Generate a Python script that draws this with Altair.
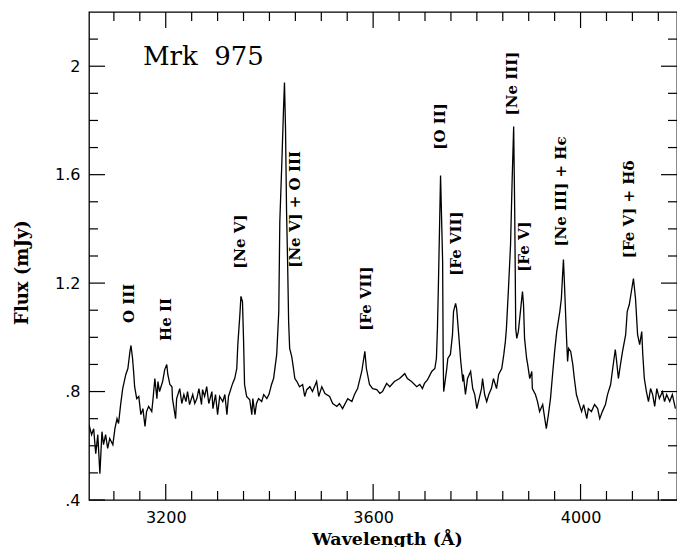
import altair as alt
import pandas as pd

# ---- spectrum ----
wavelength = [
    3052, 3057, 3061, 3065, 3069, 3073, 3077, 3080, 3084, 3088,
    3092, 3098, 3102, 3106, 3109, 3113, 3117, 3123, 3127, 3131,
    3133, 3136, 3138, 3140, 3144, 3148, 3152, 3156, 3160, 3163,
    3167, 3173, 3175, 3179, 3183, 3185, 3188, 3194, 3198, 3202,
    3204, 3208, 3212, 3213, 3219, 3221, 3227, 3231, 3235, 3239,
    3242, 3246, 3252, 3256, 3260, 3264, 3269, 3271, 3275, 3279,
    3283, 3289, 3291, 3296, 3300, 3304, 3310, 3314, 3318, 3321,
    3327, 3329, 3333, 3337, 3339, 3343, 3345, 3348, 3350, 3352,
    3356, 3362, 3366, 3368, 3372, 3375, 3379, 3385, 3389, 3395,
    3399, 3404, 3408, 3414, 3418,
    3420, 3424, 3427, 3429, 3431, 3433,
    3435, 3437, 3439, 3443, 3445, 3449, 3453, 3458, 3464, 3468,
    3472, 3478, 3483, 3491, 3495, 3501, 3507, 3516, 3522, 3530,
    3535, 3541, 3551, 3559, 3564, 3570, 3578, 3584, 3587, 3593,
    3599, 3607, 3613, 3618, 3626, 3632, 3641, 3651, 3661, 3666,
    3674, 3684, 3690, 3695, 3699, 3705, 3713, 3719, 3722, 3724,
    3726, 3730, 3734, 3735, 3736, 3738, 3742, 3744, 3749, 3753,
    3755, 3759, 3761, 3765, 3769, 3773, 3774, 3778, 3782, 3788,
    3792, 3796, 3800, 3803, 3809, 3811, 3815, 3819, 3823, 3828,
    3832, 3838, 3842, 3848, 3852, 3855, 3857, 3861, 3865, 3868,
    3871, 3873, 3875, 3877, 3880, 3884, 3888, 3890, 3892, 3896,
    3898, 3902, 3906, 3907, 3913, 3917, 3921, 3927, 3931, 3934,
    3938, 3942, 3946, 3950, 3954, 3960, 3963, 3965, 3967, 3969,
    3973, 3975, 3977, 3981, 3985, 3988, 3992, 3996, 4002, 4006,
    4012, 4015, 4021, 4027, 4033, 4037, 4042, 4048, 4052, 4058,
    4062, 4067, 4069, 4073, 4077, 4081, 4087, 4090, 4094, 4098,
    4102, 4106, 4110, 4114, 4118, 4120, 4123, 4127, 4131, 4135,
    4139, 4143, 4147, 4152, 4158, 4162, 4166, 4172, 4177, 4183,
]
flux = [
    0.678, 0.641, 0.663, 0.571, 0.641, 0.497, 0.652, 0.604, 0.641, 0.590,
    0.627, 0.604, 0.663, 0.700, 0.682, 0.752, 0.811, 0.863, 0.885, 0.948,
    0.970, 0.922, 0.874, 0.818, 0.774, 0.782, 0.715, 0.737, 0.671, 0.726,
    0.745, 0.726, 0.763, 0.848, 0.774, 0.837, 0.800, 0.837, 0.881, 0.900,
    0.863, 0.826, 0.818, 0.774, 0.700, 0.774, 0.811, 0.756, 0.789, 0.763,
    0.800, 0.752, 0.789, 0.756, 0.774, 0.811, 0.752, 0.807, 0.782, 0.818,
    0.756, 0.800, 0.737, 0.789, 0.715, 0.782, 0.763, 0.789, 0.715, 0.782,
    0.818, 0.830, 0.848, 0.885, 0.973, 1.084, 1.151, 1.132, 0.996, 0.826,
    0.782, 0.770, 0.715, 0.774, 0.715, 0.756, 0.774, 0.763, 0.789, 0.774,
    0.789, 0.826, 0.848, 0.937, 1.095,
    1.427, 1.649, 1.833, 1.940, 1.770, 1.464,
    1.280, 1.058, 0.959, 0.929, 0.903, 0.848, 0.837, 0.818, 0.826, 0.782,
    0.807, 0.818, 0.800, 0.837, 0.782, 0.818, 0.793, 0.782, 0.756, 0.745,
    0.756, 0.737, 0.774, 0.763, 0.789, 0.811, 0.874, 0.948, 0.885, 0.826,
    0.811, 0.807, 0.793, 0.800, 0.830, 0.818, 0.837, 0.848, 0.866, 0.848,
    0.837, 0.818, 0.826, 0.811, 0.830, 0.844, 0.874, 0.885, 0.922, 1.032,
    1.206, 1.597, 1.280, 0.937, 0.800, 0.826, 0.885, 0.922, 0.937, 1.010,
    1.095, 1.125, 1.106, 1.010, 0.911, 0.837, 0.863, 0.789, 0.848, 0.874,
    0.811, 0.789, 0.737, 0.763, 0.811, 0.848, 0.789, 0.763, 0.789, 0.811,
    0.848, 0.811, 0.863, 0.885, 0.937, 0.985, 1.032, 1.180, 1.342, 1.575,
    1.778, 1.464, 1.032, 0.996, 1.021, 1.095, 1.169, 1.121, 0.996, 0.922,
    0.900, 0.848, 0.874, 0.811, 0.789, 0.763, 0.726, 0.752, 0.700, 0.663,
    0.715, 0.774, 0.863, 0.948, 1.021, 1.095, 1.143, 1.217, 1.287, 1.195,
    0.996, 0.911, 0.959, 0.948, 0.900, 0.848, 0.789, 0.763, 0.726, 0.752,
    0.700, 0.737, 0.726, 0.752, 0.737, 0.700, 0.726, 0.752, 0.789, 0.826,
    0.885, 0.955, 0.922, 0.848, 0.900, 0.948, 1.010, 1.095, 1.121, 1.169,
    1.217, 1.143, 1.010, 0.973, 1.021, 0.937, 0.848, 0.800, 0.763, 0.811,
    0.789, 0.745, 0.811, 0.774, 0.800, 0.763, 0.789, 0.763, 0.789, 0.737,
]

# ---- line identifications ----
line_names = ["O III", "He II", "[Ne V]", "[Ne V] + O III", "[Fe VII]", "[O II]",
              "[Fe VII]", "[Ne III]", "[Fe V]", "[Ne III] + H\u03f5", "[Fe V] + H\u03b4"]
line_x = [3129, 3200, 3343, 3449, 3587, 3728, 3759, 3867, 3890, 3963, 4094]
line_y = [1.125, 1.066, 1.353, 1.472, 1.143, 1.778, 1.346, 1.936, 1.335, 1.538, 1.472]

object_name = ["Mrk\u00a0\u00a0975"]
object_x = [3156]
object_y = [2.003]

# ---- axis ticks ----
x_major = [3200, 3600, 4000]
x_minor = [3100, 3150, 3250, 3300, 3350, 3400, 3450, 3500, 3550, 3650, 3700,
           3750, 3800, 3850, 3900, 3950, 4050, 4100, 4150]
y_major = [0.4, 0.8, 1.2, 1.6, 2.0]
y_minor = [0.5, 0.6, 0.7, 0.9, 1.0, 1.1, 1.3, 1.4, 1.5, 1.7, 1.8, 1.9, 2.1]

W, H = 588, 488
x_dom = [3052, 4186]
y_dom = [0.4, 2.2]
xs = alt.Scale(domain=x_dom, nice=False, zero=False)
ys = alt.Scale(domain=y_dom, nice=False, zero=False)
MAJ, MIN = 16, 9

ax_x = alt.Axis(
    values=x_major, format="d", ticks=False, domain=False, grid=False,
    labelFont="DejaVu Sans", labelFontSize=16, labelColor="black",
    labelPadding=9, labelBaseline="top",
    title="Wavelength (\u00c5)", titleFont="DejaVu Serif", titleFontSize=17.5,
    titleFontWeight="bold", titleColor="black", titleX=298, titleY=44,
    titleBaseline="alphabetic", titleAlign="center")
ax_y = alt.Axis(
    values=y_major, ticks=False, domain=False, grid=False,
    labelExpr="datum.value < 1 ? '.' + format(datum.value * 10, 'd') : format(datum.value, '~g')",
    labelFont="DejaVu Sans", labelFontSize=16, labelColor="black", labelPadding=9,
    title="Flux (mJy)", titleFont="DejaVu Serif", titleFontSize=18,
    titleFontWeight="bold", titleColor="black", titleX=-67, titleY=260,
    titleAngle=270, titleAlign="center", titleBaseline="middle")

X = lambda: alt.X("lam:Q", scale=xs, axis=ax_x)
Y = lambda: alt.Y("flux:Q", scale=ys, axis=ax_y)

spec = pd.DataFrame({"lam": wavelength, "flux": flux})
labels = pd.DataFrame({"name": line_names, "lam": line_x, "flux": line_y})
obj = pd.DataFrame({"name": object_name, "lam": object_x, "flux": object_y})

xmaj = pd.DataFrame({"lam": x_major})
xmin = pd.DataFrame({"lam": x_minor})
ymaj = pd.DataFrame({"flux": y_major})
ymin = pd.DataFrame({"flux": y_minor})

line = alt.Chart(spec).mark_line(color="black", strokeWidth=1.3, clip=True).encode(
    x=X(), y=Y())


def xticks(df, length):
    bottom = alt.Chart(df).mark_rule(color="black", strokeWidth=1.2).encode(
        x=X(), y=alt.value(H), y2=alt.value(H - length))
    top = alt.Chart(df).mark_rule(color="black", strokeWidth=1.2).encode(
        x=X(), y=alt.value(0), y2=alt.value(length))
    return [bottom, top]


def yticks(df, length):
    left = alt.Chart(df).mark_rule(color="black", strokeWidth=1.2).encode(
        y=Y(), x=alt.value(0), x2=alt.value(length))
    right = alt.Chart(df).mark_rule(color="black", strokeWidth=1.2).encode(
        y=Y(), x=alt.value(W), x2=alt.value(W - length))
    return [left, right]


ticks = xticks(xmaj, MAJ) + xticks(xmin, MIN) + yticks(ymaj, MAJ) + yticks(ymin, MIN)

line_labels = alt.Chart(labels).mark_text(
    angle=270, align="center", baseline="middle", font="DejaVu Serif",
    fontSize=15, fontWeight="bold", color="black").encode(
    x=X(), y=Y(), text="name:N")

obj_label = alt.Chart(obj).mark_text(
    align="left", baseline="alphabetic", font="DejaVu Serif", fontSize=26,
    color="black").encode(
    x=X(), y=Y(), text="name:N")

chart = alt.layer(line, *ticks, line_labels, obj_label).properties(
    width=W, height=H,
    autosize=alt.AutoSizeParams(type="none"),
    padding={"left": 89, "top": 12, "right": 0, "bottom": 47},
    background="white",
).configure_view(stroke="black", strokeWidth=1.3)

chart.save("out.html", embed_options={"renderer": "svg", "actions": False})
